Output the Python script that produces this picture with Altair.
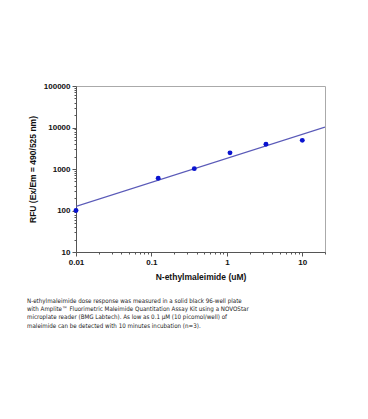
import altair as alt
import pandas as pd

# measured points
conc = [0.01, 0.123, 0.37, 1.1, 3.3, 10]
rfu = [100, 600, 1020, 2450, 3950, 4900]

# fitted line endpoints
line_x = [0.01, 20]
line_y = [126, 10200]

x_major = [0.01, 0.1, 1, 10]
x_minor = [0.02, 0.03, 0.04, 0.05, 0.06, 0.07, 0.08, 0.09,
           0.2, 0.3, 0.4, 0.5, 0.6, 0.7, 0.8, 0.9,
           2, 3, 4, 5, 6, 7, 8, 9, 20]
y_major = [10, 100, 1000, 10000, 100000]
y_minor = [m * d for d in [10, 100, 1000, 10000] for m in range(2, 10)]

caption = [
    "N-ethylmaleimide dose response was measured in a solid black 96-well plate",
    "with Amplite\u2122 Fluorimetric Maleimide Quantitation Assay Kit using a NOVOStar",
    "microplate reader (BMG Labtech). As low as 0.1 \u00b5M (10 picomol/well) of",
    "maleimide can be detected with 10 minutes incubation (n=3).",
]

pts = pd.DataFrame({"x": conc, "y": rfu})
ln = pd.DataFrame({"x": line_x, "y": line_y})

xscale = alt.Scale(type="log", domain=[0.01, 20], nice=False)
yscale = alt.Scale(type="log", domain=[10, 100000], nice=False)

common = dict(domainColor="#555", tickColor="#555", labelFont="Liberation Sans",
              labelFontWeight="bold", labelFontSize=8, labelColor="#111",
              titleFont="Liberation Sans", titleFontWeight="bold", titleFontSize=8.5,
              titleColor="#111", grid=False, labelFlush=False)

line = alt.Chart(ln).mark_line(color="#5a5ab8", strokeWidth=1.3, clip=True).encode(
    x=alt.X("x:Q", scale=xscale,
            axis=alt.Axis(orient="bottom", values=x_major, format="~g", tickSize=4,
                          labelPadding=2, title="N-ethylmaleimide (uM)", titlePadding=6,
                          **common)),
    y=alt.Y("y:Q", scale=yscale,
            axis=alt.Axis(orient="left", values=y_major, format="d", tickSize=4,
                          labelPadding=2, title="RFU (Ex/Em = 490/525 nm)", titlePadding=6,
                          **common)),
)

points = alt.Chart(pts).mark_circle(color="#0a14d0", size=24, opacity=1).encode(
    x=alt.X("x:Q", scale=xscale,
            axis=alt.Axis(orient="bottom", values=x_minor, tickSize=2, labels=False,
                          title=None, domain=False, tickColor="#555", grid=False)),
    y=alt.Y("y:Q", scale=yscale,
            axis=alt.Axis(orient="left", values=y_minor, tickSize=2, labels=False,
                          title=None, domain=False, tickColor="#555", grid=False)),
)

chart = alt.layer(line, points).resolve_axis(x="independent", y="independent").properties(
    width=249, height=166,
    autosize=alt.AutoSizeParams(type="none"),
    padding={"left": 68, "top": 78, "right": 30, "bottom": 120},
    title=alt.TitleParams(text=caption, orient="bottom", anchor="start", frame="group",
                          dx=-49, offset=17,
                          font="DejaVu Sans Condensed, Liberation Sans Narrow, Liberation Sans",
                          fontSize=6.2, fontWeight="normal", color="#222", lineHeight=8.4),
).configure_view(stroke="#aaa", strokeWidth=1)

chart.save("out.html", embed_options={"renderer": "svg", "actions": False})
